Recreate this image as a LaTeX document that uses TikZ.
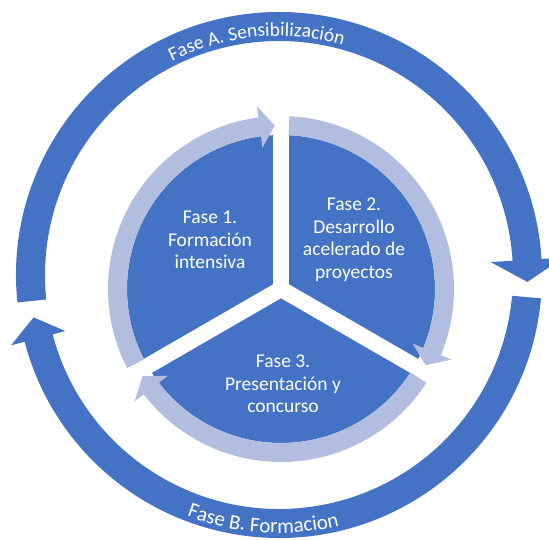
\documentclass[tikz,border=0pt]{standalone}
\usepackage{fontspec}
\setmainfont{Carlito}
\usetikzlibrary{decorations.text}
\definecolor{darkc}{RGB}{68,114,196}
\definecolor{lightc}{RGB}{178,190,224}
\tikzset{
  lbl/.style={text=white, align=center, inner sep=0pt, font=\fontsize{19.5}{22.5}\selectfont},
  gapline/.style={draw=white, line width=16pt},
}
\begin{document}
\begin{tikzpicture}[x=1pt,y=1pt]
\useasboundingbox (0,0) rectangle (549,540);
% outer ring, centre (279,265)
\begin{scope}[shift={(279pt,265pt)}]
  % arc A (top)
  \fill[darkc] (186:263pt) arc[start angle=186, end angle=3.5, radius=263pt]
    -- (3.5:285pt) -- (-1.6:248.5pt) -- (3.5:212pt) -- (3.5:234pt)
    arc[start angle=3.5, end angle=186, radius=234pt] -- cycle;
  % arc B (bottom)
  \fill[darkc] (-5.1:263pt) arc[start angle=-5.1, end angle=-165.3, radius=263pt]
    -- (-165.3:277pt) -- (-170.2:249pt) -- (-165.3:221pt) -- (-165.3:234pt)
    arc[start angle=-165.3, end angle=-5.1, radius=234pt] -- cycle;
  \path[decorate, decoration={text along path, text align={center},
      text={|\fontsize{19.5}{20}\selectfont\color{white}|Fase A. Sensibilización}}]
    (150:239pt) arc[start angle=150, end angle=41, radius=239pt];
  \path[decorate, decoration={text along path, text align={center},
      text={|\fontsize{21}{22}\selectfont\color{white}|Fase B. Formacion}}]
    (-140:258pt) arc[start angle=-140, end angle=-47.4, radius=258pt];
\end{scope}
% inner pie, centre (281,251)
\begin{scope}[shift={(281pt,251pt)}]
  \fill[darkc] (0,0) circle (154pt);
  \coordinate (c) at (0,0);
  \coordinate (g1) at (90:190pt);
  \coordinate (g2) at (210:190pt);
  \coordinate (g3) at (330:190pt);
  \draw[gapline] (c) -- (g1);
  \draw[gapline] (c) -- (g2);
  \draw[gapline] (c) -- (g3);
  % light arcs
  \fill[lightc] (207.2:173pt) arc[start angle=207.2, end angle=97.5, radius=173pt]
    -- (97.5:184.5pt) -- (92.2:163.5pt) -- (97.5:142.5pt) -- (97.5:154pt)
    arc[start angle=97.5, end angle=207.2, radius=154pt] -- cycle;
  \fill[lightc] (87.2:173pt) arc[start angle=87.2, end angle=-22.5, radius=173pt]
    -- (-22.5:184.5pt) -- (-27.8:163.5pt) -- (-22.5:142.5pt) -- (-22.5:154pt)
    arc[start angle=-22.5, end angle=87.2, radius=154pt] -- cycle;
  \fill[lightc] (-32.8:173pt) arc[start angle=-32.8, end angle=-142.5, radius=173pt]
    -- (-142.5:184.5pt) -- (-147.8:163.5pt) -- (-142.5:142.5pt) -- (-142.5:154pt)
    arc[start angle=-142.5, end angle=-32.8, radius=154pt] -- cycle;
\end{scope}
\node[lbl] (t1) at (210,300) {Fase 1.\\Formación\\intensiva};
\node[lbl] (t2) at (354,300) {Fase 2.\\Desarrollo\\acelerado de\\proyectos};
\node[lbl] (t3) at (283,156) {Fase 3.\\Presentación y\\concurso};
\end{tikzpicture}
\end{document}
